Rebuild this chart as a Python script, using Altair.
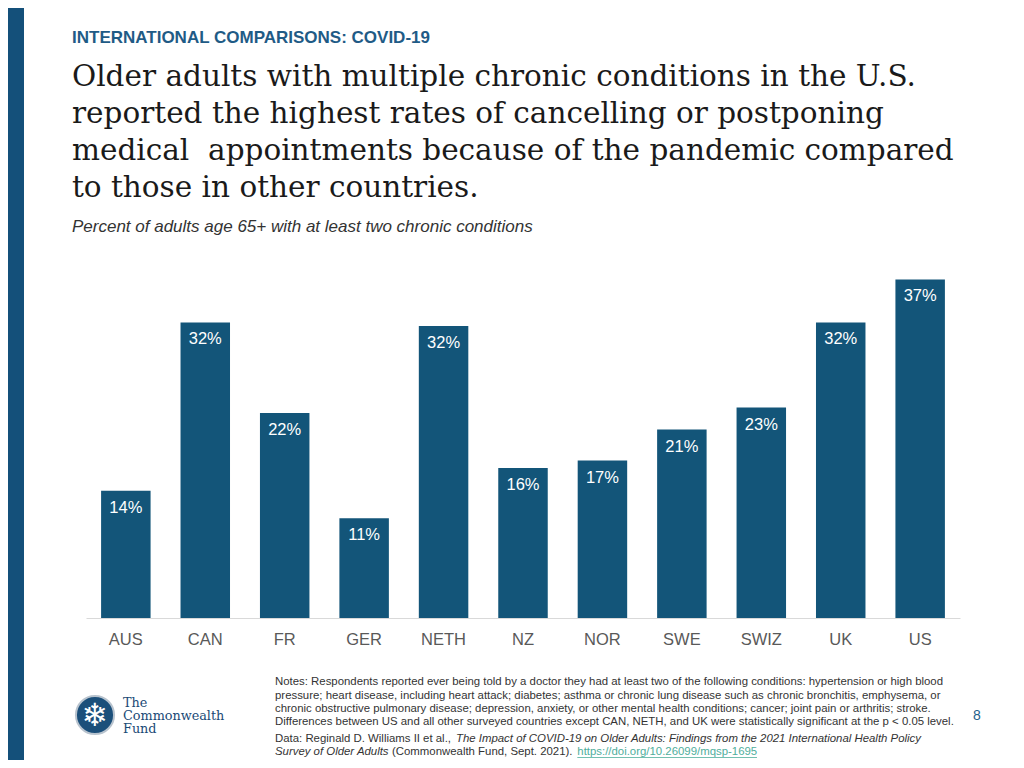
import altair as alt
import pandas as pd

countries = ["AUS", "CAN", "FR", "GER", "NETH", "NZ", "NOR", "SWE", "SWIZ", "UK", "US"]
values = [13.9, 32.3, 22.4, 10.9, 31.9, 16.4, 17.2, 20.6, 23.0, 32.3, 37.0]
labels = ["14%", "32%", "22%", "11%", "32%", "16%", "17%", "21%", "23%", "32%", "37%"]

header = "INTERNATIONAL COMPARISONS: COVID-19"
headline = [
    "Older adults with multiple chronic conditions in the U.S.",
    "reported the highest rates of cancelling or postponing",
    "medical \u00a0appointments because of the pandemic compared",
    "to those in other countries.",
]
subtitle = "Percent of adults age 65+ with at least two chronic conditions"
notes = [
    "Notes: Respondents reported ever being told by a doctor they had at least two of the following conditions: hypertension or high blood",
    "pressure; heart disease, including heart attack; diabetes; asthma or chronic lung disease such as chronic bronchitis, emphysema, or",
    "chronic obstructive pulmonary disease; depression, anxiety, or other mental health conditions; cancer; joint pain or arthritis; stroke.",
    "Differences between US and all other surveyed countries except CAN, NETH, and UK were statistically significant at the p < 0.05 level.",
]
data_l1a = "Data: Reginald D. Williams II et al.,"
data_l1b = "The Impact of COVID-19 on Older Adults: Findings from the 2021 International Health Policy"
data_l2a = "Survey of Older Adults"
data_l2b = "(Commonwealth Fund, Sept. 2021)."
data_l2c = "https://doi.org/10.26099/mqsp-1695"
logo_lines = ["The", "Commonwealth", "Fund"]
page_num = "8"

BAR = "#135579"
DARK = "#14507a"
SANS = "Liberation Sans"
NOTE_SIZE = 11.4

df = pd.DataFrame({"country": countries, "value": values, "label": labels})

base = alt.Chart(df).encode(
    x=alt.X(
        "country:N",
        sort=countries,
        title=None,
        scale=alt.Scale(paddingInner=0.377, paddingOuter=0.19),
        axis=alt.Axis(
            labelAngle=0,
            ticks=False,
            domainColor="#d9d9d9",
            domainWidth=1,
            labelColor="#595959",
            labelFont=SANS,
            labelFontSize=16.5,
            labelPadding=13,
        ),
    ),
    y=alt.Y("value:Q", scale=alt.Scale(domain=[0, 40]), axis=None),
)

bars = base.mark_bar(color=BAR)
bar_text = base.mark_text(
    dy=17, color="white", font=SANS, fontSize=16.5, baseline="middle"
).encode(text="label:N")

one = pd.DataFrame({"a": [0]})


def txt(text, x, y, align="left", **kw):
    return alt.Chart(one).mark_text(align=align, **kw).encode(
        x=alt.value(x), y=alt.value(y), text=alt.value(text)
    )


stripe = alt.Chart(one).mark_rect(color=DARK).encode(
    x=alt.value(-78), x2=alt.value(-62), y=alt.value(-244), y2=alt.value(508)
)

layers = [
    stripe,
    bars,
    bar_text,
    txt(header, -14, -214, font=SANS, fontSize=17, fontWeight="bold", color="#1f5b86", baseline="middle"),
    txt(headline, -14, -166.3, font="DejaVu Serif", fontSize=29.5, lineHeight=37, color="#1a1a1a", baseline="alphabetic"),
    txt(subtitle, -14, -25, font=SANS, fontSize=17, fontStyle="italic", color="#333333", baseline="middle"),
    txt(notes, 189, 433.3, font=SANS, fontSize=NOTE_SIZE, lineHeight=13.3, color="#333333", baseline="alphabetic"),
    txt(data_l1a, 189, 490, font=SANS, fontSize=NOTE_SIZE, color="#333333", baseline="alphabetic"),
    txt(data_l1b, 370, 490, font=SANS, fontSize=NOTE_SIZE, fontStyle="italic", color="#333333", baseline="alphabetic"),
    txt(data_l2a, 189, 503.3, font=SANS, fontSize=NOTE_SIZE, fontStyle="italic", color="#333333", baseline="alphabetic"),
    txt(data_l2b, 306, 503.3, font=SANS, fontSize=NOTE_SIZE, color="#333333", baseline="alphabetic"),
    txt(data_l2c, 491.3, 503.3, font=SANS, fontSize=NOTE_SIZE, color="#4fae9c", baseline="alphabetic"),
    alt.Chart(one).mark_rule(color="#4fae9c", strokeWidth=0.8).encode(
        x=alt.value(491.3), x2=alt.value(671), y=alt.value(505.5)
    ),
    txt(page_num, 891, 464, align="center", font=SANS, fontSize=14, color="#1f5f8b", baseline="middle"),
    alt.Chart(one).mark_circle(size=1452, color="#1b4f7a", opacity=1, stroke="#b8c3ce", strokeWidth=2).encode(
        x=alt.value(9), y=alt.value(463)
    ),
    alt.Chart(one).mark_text(font="DejaVu Sans", fontSize=32, color="white", align="center", baseline="middle").encode(
        x=alt.value(9), y=alt.value(464), text=alt.value("\u2744")
    ),
    txt(logo_lines, 37, 450.7, font="DejaVu Serif", fontSize=12.8, lineHeight=13.2, color="#1a4a76", baseline="middle"),
]

chart = alt.layer(*layers).properties(
    width=874,
    height=366,
    autosize=alt.AutoSizeParams(type="none"),
    padding={"left": 78, "top": 244, "right": 56, "bottom": 142},
).configure(background="white", view=alt.ViewConfig(strokeWidth=0, stroke=None))

chart.save("out.html", embed_options={"renderer": "svg", "actions": False})
